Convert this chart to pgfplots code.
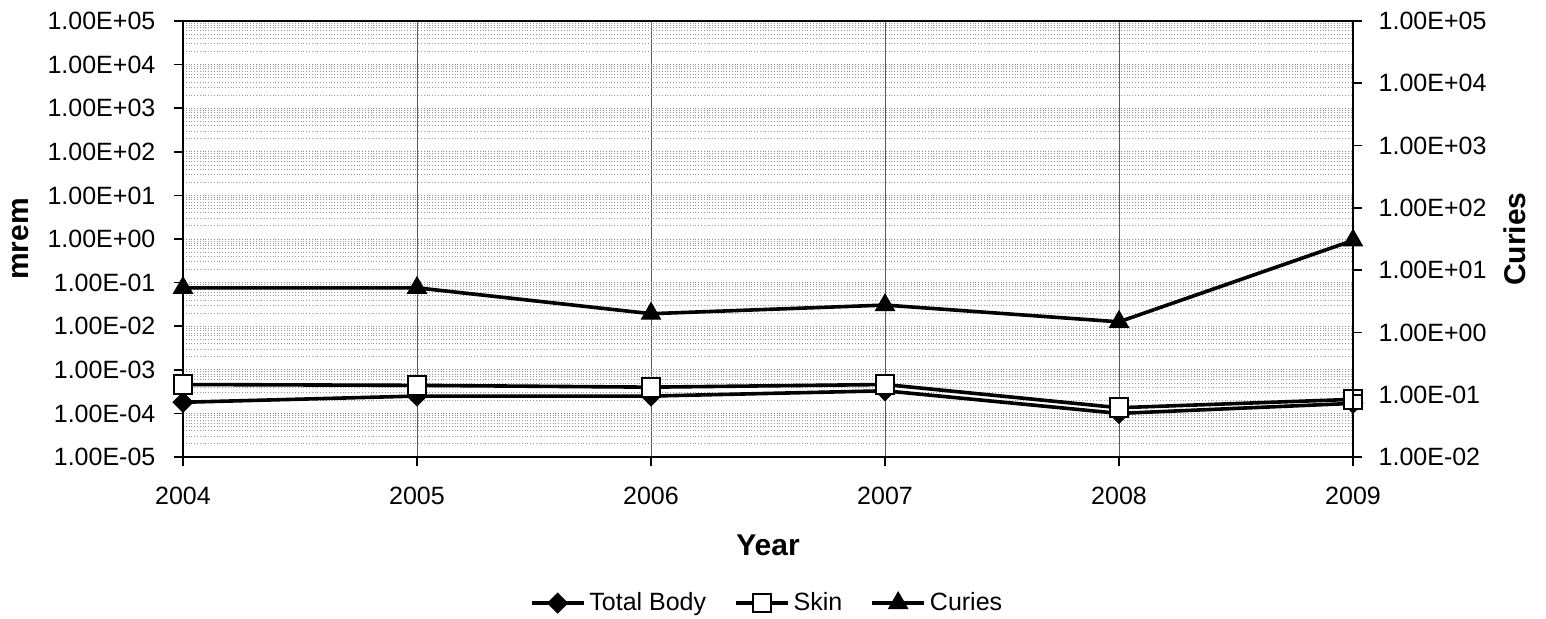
\documentclass[border=0pt]{standalone}
\usepackage{fontspec}
\setmainfont{Liberation Sans}
\usepackage{pgfplots}
\pgfplotsset{compat=1.18}

\pgfplotstableread{
year tb sk
2004 1.8e-4 4.6e-4
2005 2.5e-4 4.4e-4
2006 2.5e-4 4.0e-4
2007 3.3e-4 4.6e-4
2008 1.0e-4 1.35e-4
2009 1.7e-4 2.1e-4
}\mremdata
\pgfplotstableread{
year cu
2004 5.2
2005 5.2
2006 2.0
2007 2.75
2008 1.48
2009 30
}\curiedata

\tikzset{
  tbstyle/.style={black, line width=1.8pt, mark=square*, mark size=3.5pt,
    mark options={rotate=45, solid, fill=black, line width=0.5pt}},
  skstyle/.style={black, line width=1.8pt, mark=square*, mark size=4.7pt,
    mark options={solid, fill=white, draw=black, line width=1pt}},
  custyle/.style={black, line width=1.8pt, mark=triangle*, mark size=5.5pt,
    mark options={solid, fill=black, line width=0.5pt}},
}

\begin{document}
\begin{tikzpicture}
\begin{axis}[
  scale only axis, width=585pt, height=218pt,
  at={(0pt,0pt)}, anchor=south west,
  xmin=2004, xmax=2009, ymode=log, clip=false,
  tick align=outside, major tick length=4.5pt, minor tick length=0pt,
  tick style={black, line width=0.8pt},
  ticklabel style={font=\fontsize{12.5}{15}\selectfont},
  axis line style={line width=1pt},
  ymin=1e-5, ymax=1e5,
  xtick={2004,2005,2006,2007,2008,2009},
  xticklabels={2004,2005,2006,2007,2008,2009},
  xtick pos=bottom, ytick pos=left,
  ytick={1e-5,1e-4,1e-3,1e-2,1e-1,1,10,100,1000,1e4,1e5},
  yticklabels={1.00E-05,1.00E-04,1.00E-03,1.00E-02,1.00E-01,1.00E+00,1.00E+01,1.00E+02,1.00E+03,1.00E+04,1.00E+05},
  minor ytick={2e-5,3e-5,4e-5,5e-5,6e-5,7e-5,8e-5,9e-5,
    2e-4,3e-4,4e-4,5e-4,6e-4,7e-4,8e-4,9e-4,
    2e-3,3e-3,4e-3,5e-3,6e-3,7e-3,8e-3,9e-3,
    2e-2,3e-2,4e-2,5e-2,6e-2,7e-2,8e-2,9e-2,
    0.2,0.3,0.4,0.5,0.6,0.7,0.8,0.9,
    2,3,4,5,6,7,8,9,
    20,30,40,50,60,70,80,90,
    200,300,400,500,600,700,800,900,
    2000,3000,4000,5000,6000,7000,8000,9000,
    2e4,3e4,4e4,5e4,6e4,7e4,8e4,9e4},
  xmajorgrids, ymajorgrids, yminorgrids,
  major x grid style={black!65, line width=0.5pt},
  major y grid style={black!45, densely dotted, line width=0.5pt},
  minor y grid style={black!40, densely dotted, line width=0.4pt},
  xticklabel style={yshift=-7pt},
  yticklabel style={xshift=-5.8pt},
  xlabel={Year},
  xlabel style={at={(axis description cs:0.5,-0.2018)}, anchor=center,
    font=\bfseries\fontsize{15}{18}\selectfont},
  ylabel={mrem},
  ylabel style={at={(axis description cs:-0.139,0.5)}, anchor=center,
    font=\bfseries\fontsize{15}{18}\selectfont},
]
\addplot[tbstyle] table[x=year, y=tb] {\mremdata};
\addplot[skstyle] table[x=year, y=sk] {\mremdata};
\end{axis}
\begin{axis}[
  scale only axis, width=585pt, height=218pt,
  at={(0pt,0pt)}, anchor=south west,
  xmin=2004, xmax=2009, ymode=log, clip=false,
  tick align=outside, major tick length=4.5pt, minor tick length=0pt,
  tick style={black, line width=0.8pt},
  ticklabel style={font=\fontsize{12.5}{15}\selectfont},
  axis line style={line width=1pt},
  ymin=1e-2, ymax=1e5,
  axis x line=none, axis y line*=right,
  ytick={1e-2,1e-1,1,10,100,1000,1e4,1e5},
  yticklabels={1.00E-02,1.00E-01,1.00E+00,1.00E+01,1.00E+02,1.00E+03,1.00E+04,1.00E+05},
  yticklabel style={xshift=4.8pt},
  ylabel={Curies},
  ylabel style={at={(axis description cs:1.138,0.5)}, anchor=center,
    font=\bfseries\fontsize{15}{18}\selectfont},
  legend style={at={(axis description cs:0.5,-0.335)}, anchor=center, draw=none,
    fill=none, font=\fontsize{12.5}{15}\selectfont,
    /tikz/every even column/.append style={column sep=12pt}},
  legend columns=-1,
  legend image code/.code={\draw[mark repeat=2,mark phase=2] plot coordinates {(0pt,0pt) (13pt,0pt) (26pt,0pt)};},
]
\addlegendimage{tbstyle}
\addlegendentry{Total Body}
\addlegendimage{skstyle}
\addlegendentry{Skin}
\addplot[custyle] table[x=year, y=cu] {\curiedata};
\addlegendentry{Curies}
\end{axis}
\pgfresetboundingbox
\path (-91.5pt,-80.5pt) rectangle (681.5pt,228.5pt);
\end{tikzpicture}
\end{document}
